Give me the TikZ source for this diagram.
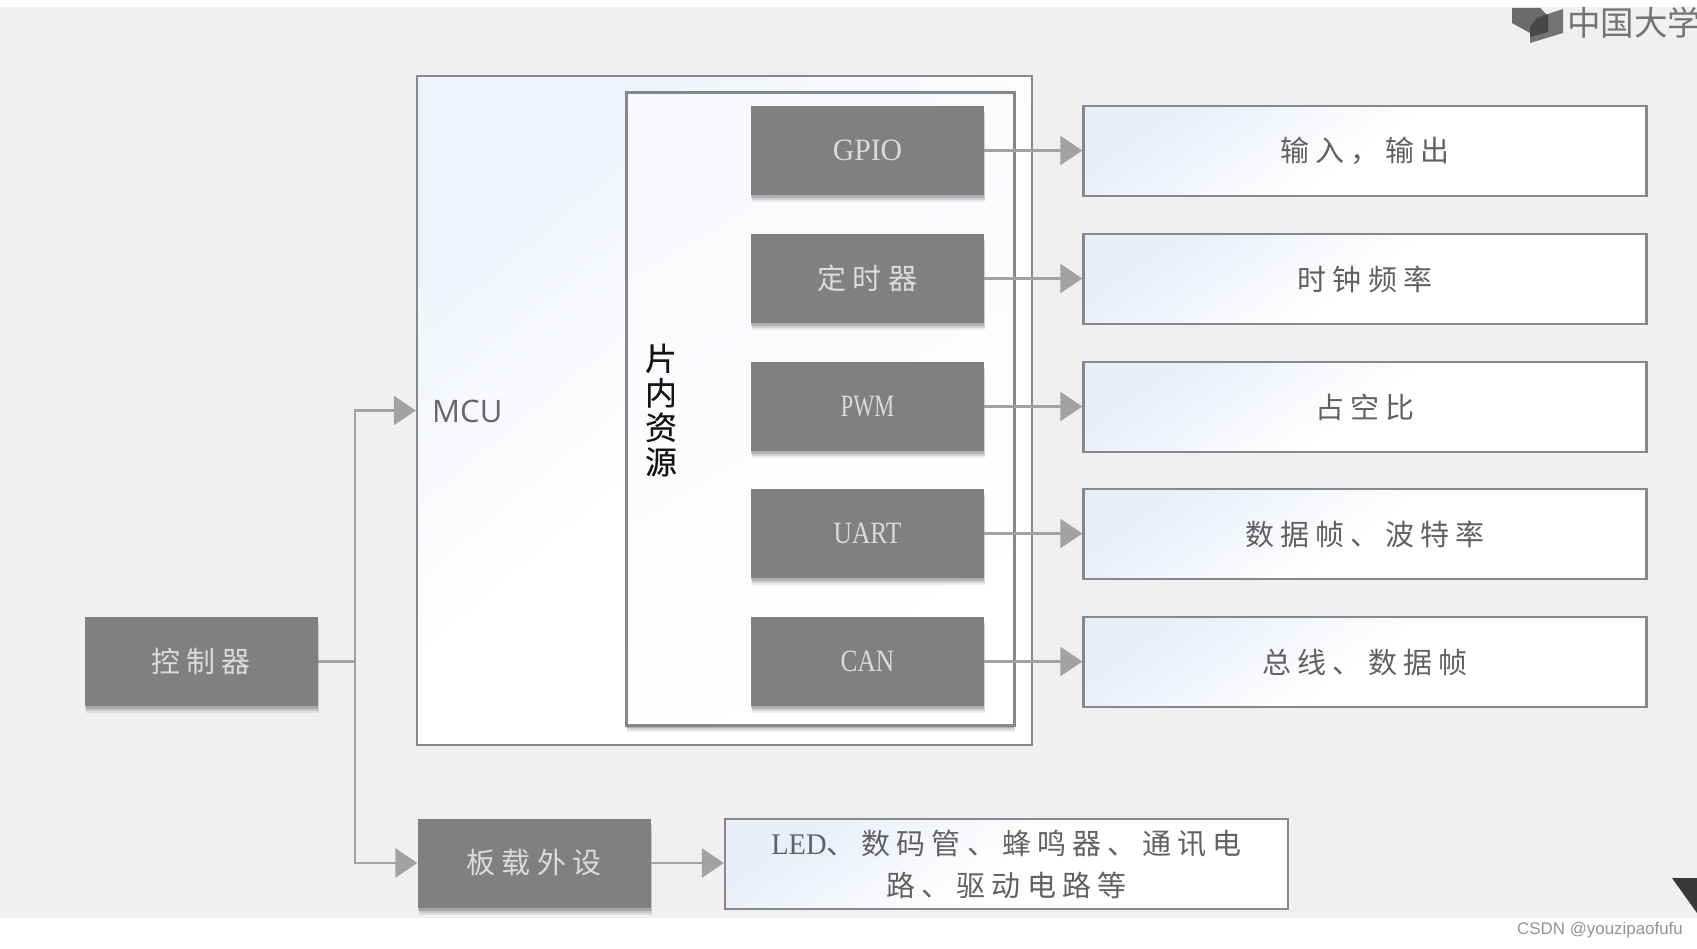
\documentclass[tikz,border=0pt]{standalone}
\usepackage{fontspec}
\usetikzlibrary{arrows.meta,shadows}
\setmainfont{Liberation Serif}
\newfontfamily\cjk[LetterSpace=21]{Noto Sans CJK SC}
\newfontfamily\cjkplain{Noto Sans CJK SC}
\newfontfamily\cjkbold[FakeBold=0.2]{Noto Sans CJK SC}
\newfontfamily\lblsans{Open Sans}
\newfontfamily\wmsans{Liberation Sans}
\newfontfamily\latnarrow[FakeStretch=0.72]{Liberation Serif}
\newfontfamily\latmid[FakeStretch=0.82]{Liberation Serif}
\newfontfamily\latgpio[FakeStretch=0.96]{Liberation Serif}
\newfontfamily\latled[FakeStretch=0.95]{Liberation Serif}
\definecolor{bgc}{HTML}{F1EFF0}
\definecolor{boxc}{HTML}{808080}
\definecolor{edgec}{HTML}{85888C}
\definecolor{linec}{HTML}{A2A2A2}
\definecolor{bluec}{HTML}{E9EEF8}
\definecolor{bluelt}{HTML}{EFF3FA}
\tikzset{
  x=1pt,y=-1pt,
  softshadow/.style={drop shadow={shadow xshift=1pt,shadow yshift=-7pt,opacity=.07,fill=black},
                     drop shadow={shadow xshift=1pt,shadow yshift=-5pt,opacity=.10,fill=black},
                     drop shadow={shadow xshift=0pt,shadow yshift=-3pt,opacity=.16,fill=black}},
  darkbox/.style={rectangle,inner sep=0pt,fill=boxc,minimum width=233pt,minimum height=89pt,
                  text=white!86!black,softshadow,font=\fontsize{29}{34}\selectfont},
  latinsize/.style={font=\fontsize{31}{34}\selectfont},
  outbox/.style={rectangle,inner sep=0pt,draw=edgec,line width=2.3pt,top color=bluec,bottom color=white,
                 middle color=white,shading angle=35,minimum width=563pt,minimum height=90pt,
                 text=black!62,align=center,font=\fontsize{29}{42}\selectfont\cjk},
  conn/.style={draw=linec,line width=2.8pt},
  arr/.style={conn,-{Triangle[length=22pt,width=29pt,fill=linec]}},
}
\begin{document}
\begin{tikzpicture}
\useasboundingbox (0,0) rectangle (1697,949);
\fill[white] (0,0) rectangle (1697,949);
\fill[bgc] (0,7) rectangle (1697,918);

% MCU and inner frame
\node[rectangle,inner sep=0pt,draw=edgec,line width=2.4pt,top color=bluelt,bottom color=white,middle color=white,shading angle=40,
      minimum width=615pt,minimum height=669pt] (mcu) at (724.5,410.5) {};
\node[rectangle,inner sep=0pt,draw=edgec,line width=3pt,fill=white,top color=white!70!bluec,bottom color=white,shading angle=30,
      minimum width=388pt,minimum height=632pt,softshadow] (chip) at (820,409) {};
\node[text=black!60,font=\fontsize{31}{36}\selectfont\lblsans,anchor=west,inner sep=0pt] (mculabel) at (432,411) {MCU};
\node[text=black!92,align=center,inner sep=0pt,font=\fontsize{32}{34.5}\selectfont\cjkbold] (chiplabel) at (661,410) {片\\内\\资\\源};

% Left column
\node[darkbox] (ctrl) at (201,661.5) {\cjk 控制器};
\node[darkbox] (board) at (534,863) {\cjk 板载外设};

% Resource blocks
\node[darkbox,latinsize] (gpio)  at (867.5,150.5) {\latgpio GPIO};
\node[darkbox] (timer) at (867.5,278.5) {\cjk 定时器};
\node[darkbox,latinsize] (pwm)   at (867.5,406.5) {\latnarrow PWM};
\node[darkbox,latinsize] (uart)  at (867.5,533.5) {\latmid UART};
\node[darkbox,latinsize] (can)   at (867.5,661.5) {\latmid CAN};

% Output boxes
\node[outbox] (o1) at (1365,151) {输入，输出};
\node[outbox] (o2) at (1365,279) {时钟频率};
\node[outbox] (o3) at (1365,407) {占空比};
\node[outbox] (o4) at (1365,534) {数据帧、波特率};
\node[outbox] (o5) at (1365,662) {总线、数据帧};
\node[outbox] (o6) at (1006.5,864) {{\fontsize{30}{42}\selectfont\latled LED}、数码管、蜂鸣器、通讯电\\路、驱动电路等};

% Connectors
\coordinate (trunk) at (355,661.5);
\draw[conn] (ctrl.east) -- (trunk);
\draw[arr] (trunk) |- (mcu.west);
\draw[arr] (trunk) |- (board.west);
\draw[arr] (board.east) -- (board.east -| o6.west);
\draw[arr] (gpio.east) -- (gpio.east -| o1.west);
\draw[arr] (timer.east) -- (timer.east -| o2.west);
\draw[arr] (pwm.east) -- (pwm.east -| o3.west);
\draw[arr] (uart.east) -- (uart.east -| o4.west);
\draw[arr] (can.east) -- (can.east -| o5.west);

% Watermark logo
\fill[black!58] (1512,8) -- (1540,8) -- (1548,16) -- (1530,33) -- (1512,23) -- cycle;
\fill[black!55] (1530,27) -- (1530,43) -- (1563,33) -- (1563,9) -- (1548,14) -- cycle;
\fill[black!72] (1530,27) -- (1530,37) -- (1548,32) -- (1548,14) -- (1537,18) -- cycle;
\begin{scope}
\clip (1500,0) rectangle (1697,60);
\node[anchor=west,inner sep=0pt,text=black!55,font=\fontsize{33.5}{36}\selectfont\cjkplain] (logo) at (1567,23) {中国大学};
\end{scope}
\fill[black!78] (1672,878) -- (1697,878) -- (1697,913) -- cycle;
\node[anchor=east,inner sep=0pt,text=black!42,font=\fontsize{16.9}{20}\selectfont\wmsans] (csdn) at (1683,930) {CSDN @youzipaofufu};
\end{tikzpicture}
\end{document}
